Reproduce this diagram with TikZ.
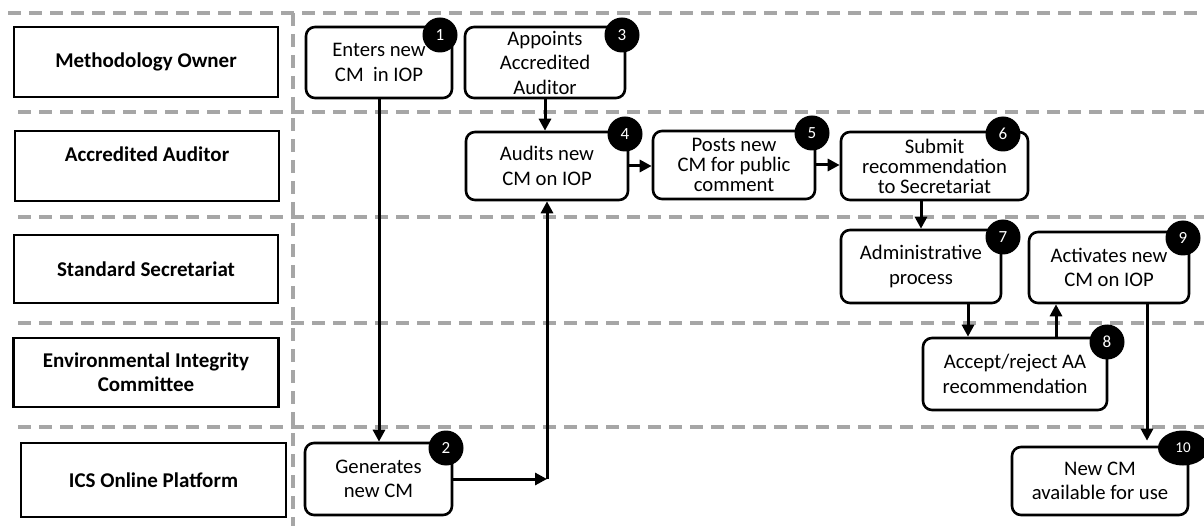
\documentclass[tikz,border=0pt]{standalone}
\usepackage{fontspec}
\setmainfont{Carlito}
\usetikzlibrary{arrows.meta,calc,shapes.geometric}
\definecolor{dashgray}{HTML}{A6A6A6}
\begin{document}
\begin{tikzpicture}[x=1pt,y=-1pt,
 lane/.style={draw=black, line width=2.4pt, fill=white, align=center, font=\fontsize{21}{24}\selectfont\bfseries, inner sep=0pt},
 stepbox/.style={draw=black, line width=2.6pt, rounded corners=9pt, fill=white, align=center, font=\fontsize{20.7}{24.5}\selectfont, inner sep=0pt},
 tight/.style={font=\fontsize{20.7}{20}\selectfont},
 badge/.style={circle, fill=black, text=white, minimum size=35pt, inner sep=0pt, font=\fontsize{17}{17}\selectfont},
 sep/.style={draw=dashgray, line width=4pt, dash pattern=on 13pt off 8pt},
 arr/.style={line width=3pt, -{Triangle[length=12pt,width=12pt]}},
]
\useasboundingbox (0,0) rectangle (1204,526);
% swimlane separators
\coordinate (t0) at (8,13);
\coordinate (t1) at (1204,13);
\coordinate (v0) at (293,13);
\coordinate (v1) at (293,526);
\draw[sep] (t0) -- (t1);
\draw[sep] (v0) -- (v1);
\foreach \yy in {112,217,323,427} {
  \coordinate (s0) at (18,\yy);
  \coordinate (s1) at (1204,\yy);
  \draw[sep] (s0) -- (s1);
}
% lane labels
\node[lane, minimum width=264pt, minimum height=70pt] (L1) at (146,62) {Methodology Owner};
\node[lane, minimum width=264pt, minimum height=70pt] (L2) at (147,166) {Accredited Auditor\\~};
\node[lane, minimum width=264pt, minimum height=68pt] (L3) at (146,269) {Standard Secretariat};
\node[lane, minimum width=265pt, minimum height=69pt] (L4) at (146,372.5) {Environmental Integrity\\Committee};
\node[lane, minimum width=265pt, minimum height=74pt] (L5) at (153.5,480) {ICS Online Platform};
% steps
\node[stepbox, minimum width=146pt, minimum height=71pt] (n1) at (379,62.5) {Enters new\\CM~ in IOP};
\node[stepbox, minimum width=147pt, minimum height=72pt] (n2) at (378.5,479) {Generates\\new CM};
\node[stepbox, minimum width=160pt, minimum height=71pt] (n3) at (545,62.5) {Appoints\\Accredited\\Auditor};
\node[stepbox, minimum width=162pt, minimum height=68pt] (n4) at (547,166) {Audits new\\CM on IOP};
\node[stepbox, tight, minimum width=162pt, minimum height=68pt] (n5) at (734,165) {Posts new\\CM for public\\comment};
\node[stepbox, tight, minimum width=187pt, minimum height=68pt] (n6) at (934.5,166) {Submit\\recommendation\\to Secretariat};
\node[stepbox, minimum width=160pt, minimum height=73pt] (n7) at (921,266.5) {Administrative\\process};
\node[stepbox, minimum width=184pt, minimum height=72pt] (n8) at (1015,374) {Accept/reject AA\\recommendation};
\node[stepbox, minimum width=160pt, minimum height=71pt] (n9) at (1109,267.5) {Activates new\\CM on IOP};
\node[stepbox, minimum width=176pt, minimum height=68pt] (n10) at (1100,481) {New CM\\available for use};
% connectors
\coordinate (c2) at (n4.south |- n2.east);
\draw[arr] (n1.south) -- (n1.south |- n2.north);
\draw[arr] (n2.east) -- (c2);
\draw[arr] (c2) -- (n4.south);
\draw[arr] (n3.south) -- (n3.south |- n4.north);
\draw[arr] (n4.east) -- (n4.east -| n5.west);
\draw[arr] (n5.east) -- (n5.east -| n6.west);
\draw[arr] (n7.north |- n6.south) -- (n7.north);
\draw[arr] ([xshift=47pt]n7.south) -- ([xshift=47pt]n7.south |- n8.north);
\draw[arr] ([xshift=-53pt]n9.south |- n8.north) -- ([xshift=-53pt]n9.south);
\draw[arr] ([xshift=38pt]n9.south) -- ([xshift=38pt,yshift=5pt]n9.south |- n10.north);
% badges
\node[badge] (b1) at (440,35) {1};
\node[badge] (b2) at (446,448) {2};
\node[badge] (b3) at (622,35) {3};
\node[badge] (b4) at (625,134) {4};
\node[badge] (b5) at (812,133) {5};
\node[badge] (b6) at (1003,134) {6};
\node[badge] (b7) at (1003,237) {7};
\node[badge] (b8) at (1107,342) {8};
\node[badge] (b9) at (1183,238) {9};
\node[ellipse, fill=black, text=white, minimum width=50pt, minimum height=35pt, inner sep=0pt, font=\fontsize{15}{15}\selectfont] (b10) at (1183,448) {10};
\end{tikzpicture}
\end{document}
